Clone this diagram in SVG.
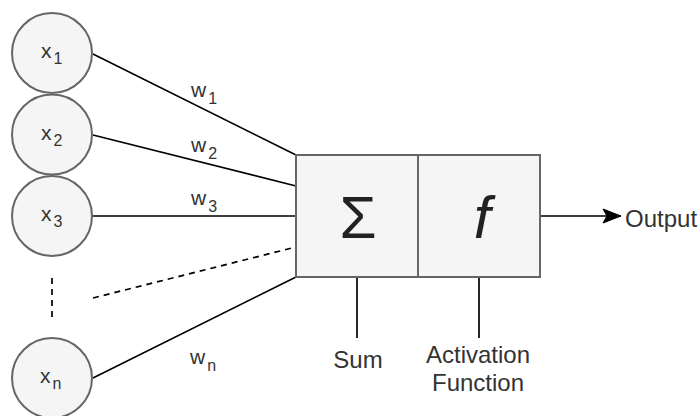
<svg xmlns="http://www.w3.org/2000/svg" width="700" height="416" viewBox="0 0 700 416">
  <style>
    .node { fill: #f5f5f5; stroke: #666666; stroke-width: 2; }
    .edge { fill: none; stroke: #000000; stroke-width: 1.7; }
    .dash { stroke-dasharray: 6 5; }
    .lbl { font-family: "Liberation Sans", Arial, sans-serif; font-size: 21px; fill: #333333; }
    .cap { font-size: 24px; }
    .sub { font-size: 16px; }
    .big { font-family: "Liberation Sans", Arial, sans-serif; font-size: 60px; fill: #222222; text-anchor: middle; }
  </style>
  <defs>
    <marker id="arrow" viewBox="0 0 20 16" refX="19" refY="8" markerWidth="20" markerHeight="16" markerUnits="userSpaceOnUse" orient="auto">
      <path d="M1,1 L19,8 L1,15 L5,8 Z" fill="#000000" stroke="#000000" stroke-width="1"/>
    </marker>
  </defs>

  <g id="connectors">
    <line class="edge" x1="93" y1="54" x2="296" y2="155"/>
    <line class="edge" x1="93" y1="135" x2="296" y2="186"/>
    <line class="edge" x1="93" y1="216" x2="296" y2="216"/>
    <line class="edge dash" x1="93" y1="298" x2="296" y2="247"/>
    <line class="edge" x1="93" y1="378" x2="296" y2="277"/>
    <line class="edge dash" x1="52" y1="278" x2="52" y2="318"/>
    <line class="edge" x1="357" y1="277" x2="357" y2="338"/>
    <line class="edge" x1="479" y1="277" x2="479" y2="338"/>
    <line class="edge" x1="540" y1="216" x2="621" y2="216" marker-end="url(#arrow)"/>
  </g>

  <g id="x1">
    <circle class="node" cx="52" cy="53" r="40"/>
    <text class="lbl" x="41" y="58">x<tspan class="sub" dx="2" dy="6">1</tspan></text>
  </g>
  <g id="x2">
    <circle class="node" cx="52" cy="134.5" r="40"/>
    <text class="lbl" x="41" y="139.5">x<tspan class="sub" dx="2" dy="6">2</tspan></text>
  </g>
  <g id="x3">
    <circle class="node" cx="52" cy="216" r="40"/>
    <text class="lbl" x="41" y="221">x<tspan class="sub" dx="2" dy="6">3</tspan></text>
  </g>
  <g id="xn">
    <circle class="node" cx="52" cy="378" r="40"/>
    <text class="lbl" x="40" y="383">x<tspan class="sub" dx="2" dy="6">n</tspan></text>
  </g>

  <g id="weights">
    <text class="lbl" x="191" y="97">w<tspan class="sub" dx="2" dy="7">1</tspan></text>
    <text class="lbl" x="191" y="152">w<tspan class="sub" dx="2" dy="7">2</tspan></text>
    <text class="lbl" x="191" y="205">w<tspan class="sub" dx="2" dy="7">3</tspan></text>
    <text class="lbl" x="190" y="364">w<tspan class="sub" dx="2" dy="7">n</tspan></text>
  </g>

  <g id="sum">
    <rect class="node" x="296" y="155" width="122" height="122"/>
    <text class="big" x="358" y="238">Σ</text>
  </g>
  <g id="activation">
    <rect class="node" x="418" y="155" width="122" height="122"/>
    <text class="big" x="482" y="238" font-style="italic">f</text>
  </g>

  <g id="labels">
    <text class="lbl cap" x="358" y="368" text-anchor="middle">Sum</text>
    <text class="lbl cap" x="478" y="363" text-anchor="middle">Activation</text>
    <text class="lbl cap" x="478" y="391" text-anchor="middle">Function</text>
    <text class="lbl cap" x="625" y="227">Output</text>
  </g>
</svg>
